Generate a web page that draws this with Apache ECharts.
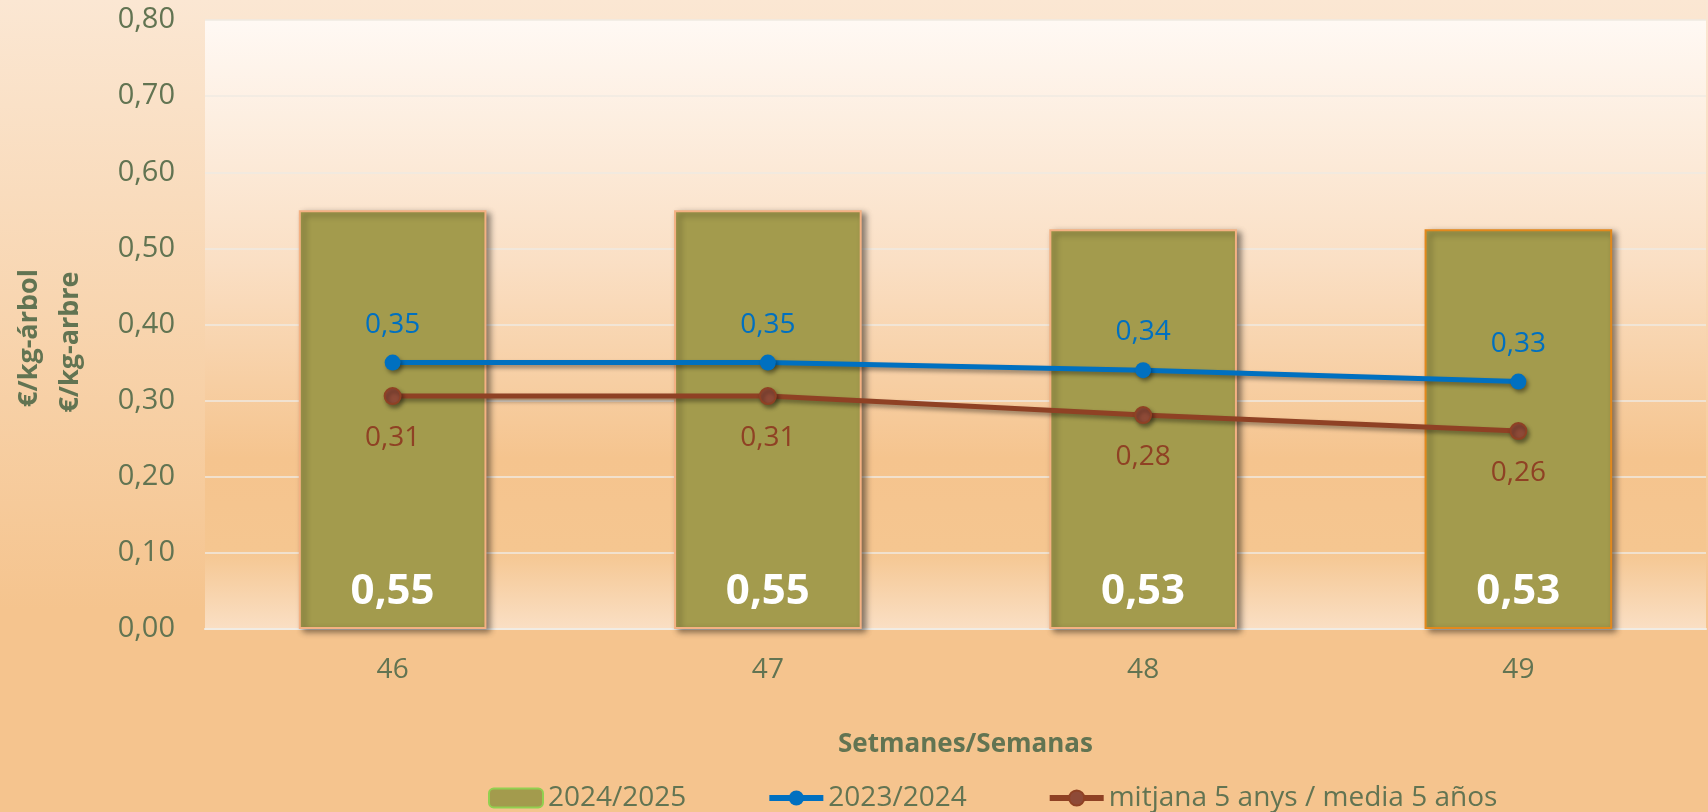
<!DOCTYPE html>
<html>
<head>
<meta charset="utf-8">
<title>Setmanes/Semanas</title>
<script src="https://cdn.jsdelivr.net/npm/echarts@6/dist/echarts.min.js"></script>
<style>
	html, body {
		margin: 0;
		padding: 0;
		width: 100%;
		height: 100%;
	}

	#chart {
		width: 1708px;
		height: 812px;
	}
</style>
</head>
<body>
<div id="chart"></div>
<script>
	// dades llegides del gràfic
	var weeks = ['46', '47', '48', '49'];
	var season2425 = [0.55, 0.55, 0.525, 0.525];
	var season2324 = [0.35, 0.35, 0.34, 0.325];
	var avg5years = [0.306, 0.306, 0.281, 0.26];
	var yTicks = [0, 0.1, 0.2, 0.3, 0.4, 0.5, 0.6, 0.7, 0.8];

	var seriesNames = ['2024/2025', '2023/2024', 'mitjana 5 anys / media 5 años'];
	var yTitles = ['€/kg-árbol', '€/kg-arbre'];
	var barBorders = ['#F4B183', '#F4B183', '#F4B183', '#E3881C'];

	var textColor = '#627452';
	var mainFont = "'Open Sans', 'Noto Sans', sans-serif";

	function fmt(v) {
		return (Math.round(v * 100) / 100).toFixed(2).replace('.', ',');
	}

	var lineShadow = {
		shadowColor: 'rgba(0, 0, 0, 0.4)',
		shadowBlur: 4,
		shadowOffsetX: 2,
		shadowOffsetY: 3
	};

	var myChart = echarts.init(document.getElementById('chart'));

	myChart.setOption({
		backgroundColor: {
			type: 'linear', x: 0, y: 0, x2: 0, y2: 1,
			colorStops: [
				{offset: 0, color: '#FBE7D3'},
				{offset: 0.75, color: '#F5C48E'},
				{offset: 1, color: '#F5C48E'}
			]
		},
		textStyle: {
			fontFamily: mainFont
		},
		// títol eix Y en dues línies, girat
		graphic: [{
				type: 'text',
				x: 29,
				y: 338,
				rotation: Math.PI / 2,
				style: {
					text: yTitles[0],
					fill: textColor,
					font: 'bold 27px ' + mainFont,
					textAlign: 'center',
					textVerticalAlign: 'middle'
				}
			},
			{
				type: 'text',
				x: 70,
				y: 342,
				rotation: Math.PI / 2,
				style: {
					text: yTitles[1],
					fill: textColor,
					font: 'bold 27px ' + mainFont,
					textAlign: 'center',
					textVerticalAlign: 'middle'
				}
			}
		],
		grid: {
			left: 205,
			right: 2,
			top: 20,
			bottom: 183,
			outerBoundsMode: 'none',
			containLabel: false,
			show: true,
			borderWidth: 0,
			backgroundColor: {
				type: 'linear', x: 0, y: 0, x2: 0, y2: 1,
				colorStops: [
					{offset: 0, color: '#FFF9F4'},
					{offset: 0.4, color: '#FADFC4'},
					{offset: 0.72, color: '#F5C48E'},
					{offset: 0.87, color: '#F5C690'},
					{offset: 1, color: '#FADFC4'}
				]
			}
		},
		legend: {
			left: 483,
			top: 779,
			itemWidth: 54,
			itemHeight: 19,
			itemGap: 80,
			textStyle: {
				color: textColor,
				fontSize: 28
			},
			data: [
				{name: seriesNames[0], itemStyle: {borderColor: '#92D050', borderWidth: 2}},
				{name: seriesNames[1], lineStyle: {width: 6}},
				{name: seriesNames[2], lineStyle: {width: 6}}
			]
		},
		xAxis: {
			type: 'category',
			data: weeks,
			name: 'Setmanes/Semanas',
			nameLocation: 'middle',
			nameGap: 103,
			nameTextStyle: {
				color: textColor,
				fontSize: 26,
				fontWeight: 'bold',
				padding: [0, 0, 0, 20]
			},
			axisLine: {
				lineStyle: {color: '#F1ECE4', width: 2}
			},
			axisTick: {show: false},
			axisLabel: {
				color: textColor,
				fontSize: 28,
				margin: 27
			}
		},
		yAxis: {
			type: 'value',
			min: yTicks[0],
			max: yTicks[yTicks.length - 1],
			interval: 0.1,
			axisLine: {show: false},
			axisTick: {show: false},
			splitLine: {
				lineStyle: {color: '#EFEAE2', width: 1.5}
			},
			axisLabel: {
				color: textColor,
				fontSize: 29,
				margin: 30,
				formatter: function (v) {
					return fmt(v);
				}
			}
		},
		series: [{
				name: seriesNames[0],
				type: 'bar',
				barWidth: '50%',
				data: season2425.map(function (v, i) {
					return {
						value: v,
						itemStyle: {borderColor: barBorders[i]}
					};
				}),
				itemStyle: {
					color: '#A39B4D',
					borderWidth: 2,
					shadowColor: 'rgba(0, 0, 0, 0.45)',
					shadowBlur: 6,
					shadowOffsetX: 4,
					shadowOffsetY: 3
				},
				label: {
					show: true,
					position: 'insideBottom',
					distance: 16,
					color: '#FFFFFF',
					fontSize: 42,
					fontWeight: 'bold',
					formatter: function (p) {
						return fmt(p.value);
					}
				}
			},
			{
				name: seriesNames[1],
				type: 'line',
				data: season2324,
				symbol: 'circle',
				symbolSize: 16,
				z: 3,
				lineStyle: Object.assign({color: '#0070C0', width: 5}, lineShadow),
				itemStyle: Object.assign({color: '#0070C0'}, lineShadow),
				label: {
					show: true,
					position: 'top',
					distance: 16,
					color: '#0070C0',
					fontSize: 28,
					formatter: function (p) {
						return fmt(p.value);
					}
				}
			},
			{
				name: seriesNames[2],
				type: 'line',
				data: avg5years,
				symbol: 'circle',
				symbolSize: 16,
				z: 3,
				lineStyle: Object.assign({color: '#8F4124', width: 5}, lineShadow),
				itemStyle: Object.assign({color: '#8E4A37', borderColor: '#8F4124', borderWidth: 2}, lineShadow),
				label: {
					show: true,
					position: 'bottom',
					distance: 19,
					color: '#8F4124',
					fontSize: 28,
					formatter: function (p) {
						return fmt(p.value);
					}
				}
			}
		]
	});
</script>
</body>
</html>
